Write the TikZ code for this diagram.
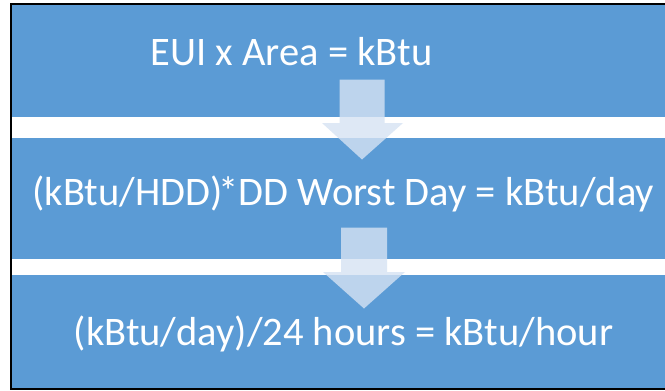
\documentclass[tikz,border=0pt]{standalone}
\usepackage{fontspec}
\setmainfont{Carlito}
\definecolor{bandblue}{RGB}{91,155,213}
\definecolor{arrowfill}{RGB}{214,227,243}
\begin{document}
\begin{tikzpicture}[x=1pt,y=-1pt,
  band/.style={fill=bandblue,draw=none},
  downarrow/.style={fill=arrowfill,fill opacity=0.8,draw=none},
  label/.style={text=white,font=\fontsize{40.5}{48}\selectfont,anchor=base,inner sep=0pt}]
\useasboundingbox (0,0) rectangle (665,391);
\fill[white] (0,0) rectangle (665,391);
\fill[band] (12,5) rectangle (665,117);
\fill[band] (12,138) rectangle (665,259);
\fill[band] (12,275) rectangle (665,388);
\draw[line width=2,black] (665,4) -- (11,4) -- (11,389) -- (665,389);
% arrows
\fill[downarrow] (339.5,79.5) -- (384.5,79.5) -- (384.5,123) -- (403,123) -- (362,159.5) -- (322,123) -- (339.5,123) -- cycle;
\fill[downarrow] (341,227.5) -- (387,227.5) -- (387,272) -- (405,272) -- (364,308.5) -- (323,272) -- (341,272) -- cycle;
% texts
\node[label] (t1) at (291.5,65.7) {EUI x Area = kBtu};
\node[label] (t2) at (343.3,205) {(kBtu/HDD)\kern-4pt*DD Worst Day = kBtu/day};
\node[label] (t3) at (343.5,345) {(kBtu/day)/24 hours = kBtu/hour};
\end{tikzpicture}
\end{document}
